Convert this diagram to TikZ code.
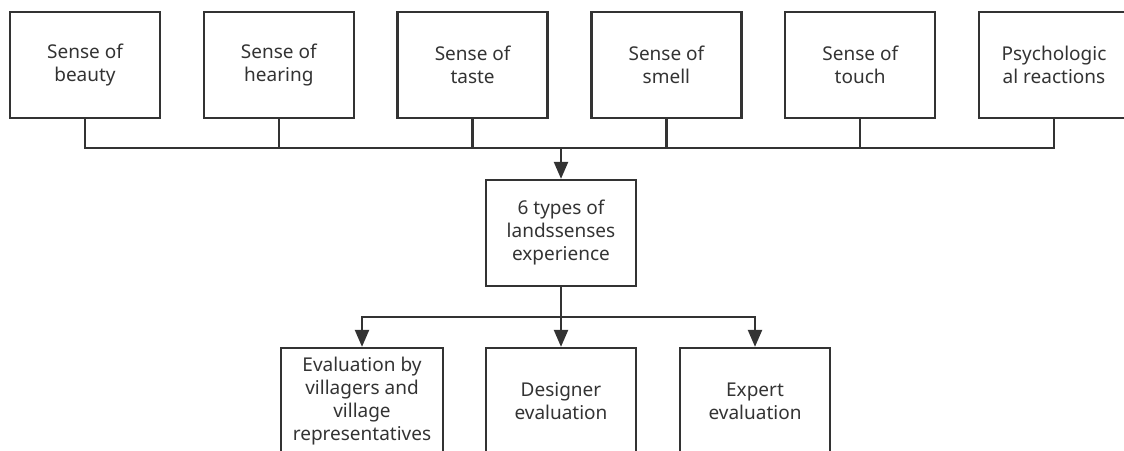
\documentclass[tikz,border=0pt]{standalone}
\usepackage{fontspec}
\setmainfont{Noto Sans}
\usetikzlibrary{arrows.meta,positioning}
\definecolor{ink}{HTML}{333333}

\begin{document}
\begin{tikzpicture}[x=1pt,y=-1pt,>={Triangle[width=14pt,length=17pt]},node distance=41.5pt,
 every node/.style={font=\fontsize{19}{23}\selectfont,text=ink},
 box/.style={draw=ink,line width=2.3pt,minimum width=150pt,minimum height=106pt,align=center,inner sep=2pt},
 link/.style={draw=ink,line width=2.3pt}]
\useasboundingbox (0,0) rectangle (1124,450);
\clip (0,0) rectangle (1124,450);
% senses
\node[box](s1) at (85,65){Sense of\\beauty};
\node[box,right=of s1](s2){Sense of\\hearing};
\node[box,right=of s2](s3){Sense of\\taste};
\node[box,right=of s3](s4){Sense of\\smell};
\node[box,right=of s4](s5){Sense of\\touch};
\node[box,right=of s5](s6){Psychologic\\al reactions};
\coordinate(j) at (561,148);
\node[box](m) at (561,233){6 types of\\landssenses\\experience};
\coordinate(k) at (561,317);
% evaluations
\node[box,minimum width=162pt](e1) at (362,401){Evaluation by\\villagers and\\village\\representatives};
\node[box](e2) at (561,401){Designer\\evaluation};
\node[box](e3) at (755,401){Expert\\evaluation};
\foreach \i in {1,...,6}{\draw[link](s\i.south)|-(j);}
\draw[link,->](j)--(m.north);
\draw[link](m.south)--(k);
\draw[link,->](k)-|(e1.north);\draw[link,->](k)--(e2.north);\draw[link,->](k)-|(e3.north);
\end{tikzpicture}
\end{document}
